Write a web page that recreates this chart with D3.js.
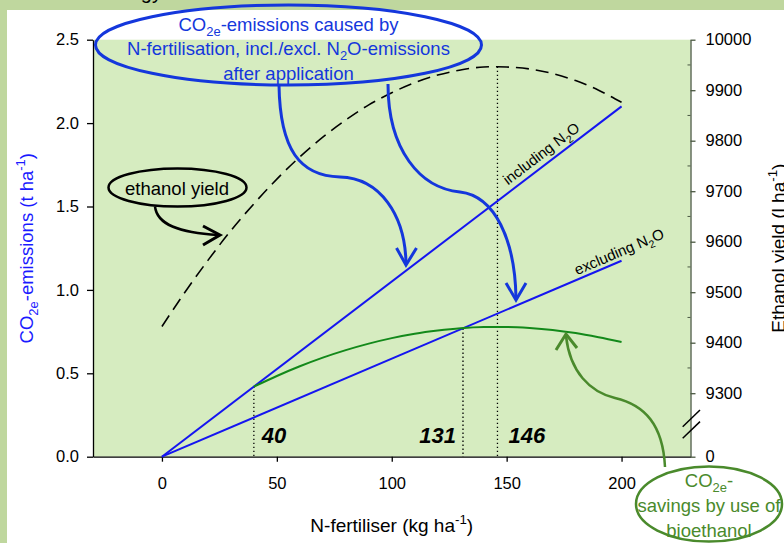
<!DOCTYPE html>
<html><head><meta charset="utf-8">
<script src="https://cdn.jsdelivr.net/npm/d3@7"></script>
<style>
body{margin:0;background:#fff;}
svg{display:block;font-family:"Liberation Sans",Arial,sans-serif;}
</style>
</head><body><svg id="c" width="784" height="543"></svg>
<script>
// ---------- data ----------
const xTicks = [0, 50, 100, 150, 200];
const yLeftTicks = [0, 0.5, 1.0, 1.5, 2.0, 2.5];
const yRightTicks = [0, 9300, 9400, 9500, 9600, 9700, 9800, 9900, 10000];
const yRightMinor = [9350, 9450, 9550, 9650, 9750, 9850, 9950];
// ethanol yield (l/ha, right axis)
const ethN = [0, 10, 20, 30, 40, 50, 60, 70, 80, 90, 100, 110, 120, 130, 140, 146, 150, 160, 170, 180, 190, 200];
const ethYield = [9432, 9500, 9563, 9622, 9675, 9724, 9768, 9807, 9841, 9871, 9895, 9915, 9930, 9940, 9946, 9946.5, 9946, 9942, 9933, 9919, 9900, 9876];
// CO2e savings by bioethanol (t/ha, left axis)
const savN = [40, 50, 60, 70, 80, 90, 100, 110, 120, 130, 140, 150, 160, 170, 180, 190, 200];
const savVal = [0.420, 0.484, 0.542, 0.594, 0.639, 0.678, 0.711, 0.737, 0.756, 0.770, 0.777, 0.778, 0.772, 0.760, 0.741, 0.716, 0.688];
// CO2e emissions lines
const inclN = [0, 200], inclVal = [0, 2.1];
const exclN = [0, 200], exclVal = [0, 1.175];
// marker lines
const markerN = [40, 131, 146];
const markerLabels = ["40", "131", "146"];

// ---------- setup ----------
const svg = d3.select("#c");
const FONT = '"Liberation Sans",Arial,sans-serif';
const plot = {l: 93, r: 690.5, t: 39.7, b: 456.7};

const x = d3.scaleLinear().domain([-30, 230]).range([plot.l, plot.r]);
const yL = d3.scaleLinear().domain([0, 2.5]).range([plot.b, plot.t]);
const yR = d3.scaleLinear().domain([0, 9300, 10000]).range([plot.b, 393.2, plot.t]);

// backgrounds
svg.append("rect").attr("width", 784).attr("height", 543).attr("fill", "#bfd79e");
svg.append("rect").attr("x", 7).attr("y", 10).attr("width", 777).attr("height", 533).attr("fill", "#ffffff");
svg.append("text").attr("x", 162).attr("y", -1).attr("text-anchor", "end")
  .attr("font-size", 20).attr("fill", "#000").text("Energy");
svg.append("rect").attr("x", plot.l).attr("y", plot.t).attr("width", plot.r - plot.l)
  .attr("height", plot.b - plot.t).attr("fill", "#d6ecc0");

// rich text with sub/superscripts (shift is undone on the following part)
function rich(textSel, parts, size) {
  let pending = 0;
  parts.forEach(p => {
    const [s, kind] = p;
    const t = textSel.append("tspan").text(s).attr("font-size", size);
    let shift = 0;
    if (kind === "sub") { t.attr("font-size", size * 0.7); shift = size * 0.28; }
    else if (kind === "sup") { t.attr("font-size", size * 0.7); shift = -size * 0.42; }
    const dy = pending + shift;
    if (dy !== 0) t.attr("dy", dy);
    pending = -shift;
  });
  return textSel;
}

// ---------- axes ----------
const axL = svg.append("g").attr("transform", `translate(${plot.l},0)`)
  .call(d3.axisLeft(yL).tickValues(yLeftTicks).tickFormat(d3.format(".1f")).tickSize(6).tickSizeOuter(0).tickPadding(8));
const axB = svg.append("g").attr("transform", `translate(0,${plot.b})`)
  .call(d3.axisBottom(x).tickValues(xTicks).tickSize(5).tickSizeOuter(0).tickPadding(16));
const axR = svg.append("g").attr("transform", `translate(${plot.r},0)`)
  .call(d3.axisRight(yR).tickValues(yRightTicks).tickFormat(d3.format("d")).tickSize(5).tickSizeOuter(0).tickPadding(10));
[axL, axB, axR].forEach(a => {
  a.selectAll("text").attr("font-size", 16.5).attr("font-family", FONT).attr("fill", "#000");
  a.selectAll("line,path").attr("stroke", "#000").attr("stroke-width", 1.3);
});
axR.selectAll("line,path").attr("stroke", "#4a5842");
axR.selectAll(".minor").data(yRightMinor).enter().append("line").attr("class", "minor")
  .attr("x1", -3).attr("x2", 0).attr("y1", d => yR(d)).attr("y2", d => yR(d))
  .attr("stroke", "#4a5842").attr("stroke-width", 1);
// axis break marks
[0, 11.6].forEach(o => {
  svg.append("line").attr("x1", 682.7).attr("y1", 426.7 + o).attr("x2", 700).attr("y2", 410 + o)
    .attr("stroke", "#000").attr("stroke-width", 1.5);
});

// axis titles
rich(svg.append("text").attr("transform", `translate(33,${(plot.t + plot.b) / 2}) rotate(-90)`)
  .attr("text-anchor", "middle").attr("font-size", 18.5).attr("fill", "#1a1aff"),
  [["CO"], ["2e", "sub"], ["-emissions (t ha"], ["-1", "sup"], [")"]], 18.5);
rich(svg.append("text").attr("transform", `translate(785,${(plot.t + plot.b) / 2}) rotate(-90)`)
  .attr("text-anchor", "middle").attr("font-size", 19).attr("fill", "#000"),
  [["Ethanol yield (l ha"], ["-1", "sup"], [")"]], 19);
rich(svg.append("text").attr("x", (plot.l + plot.r) / 2).attr("y", 532)
  .attr("text-anchor", "middle").attr("font-size", 19).attr("fill", "#000"),
  [["N-fertiliser (kg ha"], ["-1", "sup"], [")"]], 19);

// ---------- marker lines ----------
const markerTop = [yL(savVal[0]), yL(0.768), yR(ethYield[ethN.indexOf(146)])];
markerN.forEach((m, i) => {
  svg.append("line").attr("x1", x(m)).attr("x2", x(m)).attr("y1", markerTop[i]).attr("y2", plot.b)
    .attr("stroke", "#000").attr("stroke-width", 1.3).attr("stroke-dasharray", "1.3,2.7");
});
const mlab = [{a: "start", dx: 8}, {a: "end", dx: -7}, {a: "start", dx: 11}];
markerN.forEach((m, i) => {
  svg.append("text").attr("x", x(m) + mlab[i].dx).attr("y", 443).attr("text-anchor", mlab[i].a)
    .attr("font-size", 22).attr("font-weight", "bold").attr("font-style", "italic")
    .attr("fill", "#000").text(markerLabels[i]);
});

// ---------- data lines ----------
const lineL = d3.line().x(d => x(d[0])).y(d => yL(d[1]));
svg.append("path").attr("d", lineL(d3.zip(inclN, inclVal))).attr("fill", "none")
  .attr("stroke", "#1515f0").attr("stroke-width", 2);
svg.append("path").attr("d", lineL(d3.zip(exclN, exclVal))).attr("fill", "none")
  .attr("stroke", "#1515f0").attr("stroke-width", 2);
svg.append("path").attr("d", d3.line().curve(d3.curveMonotoneX).x(d => x(d[0])).y(d => yL(d[1]))(d3.zip(savN, savVal)))
  .attr("fill", "none").attr("stroke", "#13891a").attr("stroke-width", 2);
svg.append("path").attr("d", d3.line().curve(d3.curveMonotoneX).x(d => x(d[0])).y(d => yR(d[1]))(d3.zip(ethN, ethYield)))
  .attr("fill", "none").attr("stroke", "#000").attr("stroke-width", 1.6).attr("stroke-dasharray", "13,7");

// line labels
function lineLabel(n, vals, atN, off, parts) {
  const x0 = x(n[0]), y0 = yL(vals[0]), x1 = x(n[1]), y1 = yL(vals[1]);
  const ang = Math.atan2(y1 - y0, x1 - x0) * 180 / Math.PI;
  const px = x(atN), py = yL(vals[0] + (vals[1] - vals[0]) * (atN - n[0]) / (n[1] - n[0]));
  rich(svg.append("text").attr("transform", `translate(${px},${py}) rotate(${ang})`)
    .attr("y", off).attr("text-anchor", "middle").attr("font-size", 15).attr("fill", "#000"), parts, 15);
}
lineLabel(inclN, inclVal, 168, -6, [["including N"], ["2", "sub"], ["O"]]);
lineLabel(exclN, exclVal, 200.5, -4, [["excluding N"], ["2", "sub"], ["O"]]);

// ---------- annotations ----------
const BLUE = "#1437dc", GREEN = "#4a8a2c";
function arrowHead(tip, a1, a2, color) {
  svg.append("path").attr("d", `M${a1[0]},${a1[1]}L${tip[0]},${tip[1]}L${a2[0]},${a2[1]}`)
    .attr("fill", "none").attr("stroke", color).attr("stroke-width", 3).attr("stroke-linejoin", "miter");
}
// blue ellipse
svg.append("ellipse").attr("cx", 288.5).attr("cy", 45).attr("rx", 193).attr("ry", 40)
  .attr("fill", "none").attr("stroke", BLUE).attr("stroke-width", 3);
const bt = [
  {y: 30.5, p: [["CO"], ["2e", "sub"], ["-emissions caused by"]]},
  {y: 55, p: [["N-fertilisation, incl./excl. N"], ["2", "sub"], ["O-emissions"]]},
  {y: 80, p: [["after application"]]}
];
bt.forEach(l => rich(svg.append("text").attr("x", 288.5).attr("y", l.y).attr("text-anchor", "middle")
  .attr("font-size", 18.5).attr("fill", BLUE), l.p, 18.5));
svg.append("path").attr("d", "M279,85 C280,150 300,176 340,177 C380,178 405,215 406,263")
  .attr("fill", "none").attr("stroke", BLUE).attr("stroke-width", 3);
arrowHead([406, 265], [396.5, 248], [416.5, 248], BLUE);
svg.append("path").attr("d", "M388,84 C388,150 420,188 460,192 C495,196 515,240 516,298")
  .attr("fill", "none").attr("stroke", BLUE).attr("stroke-width", 3);
arrowHead([516, 300], [506, 283], [526, 283], BLUE);

// ethanol yield ellipse
svg.append("ellipse").attr("cx", 177.5).attr("cy", 187.5).attr("rx", 69).attr("ry", 19)
  .attr("fill", "none").attr("stroke", "#000").attr("stroke-width", 2.5);
svg.append("text").attr("x", 177).attr("y", 194.5).attr("text-anchor", "middle")
  .attr("font-size", 18.5).attr("fill", "#000").text("ethanol yield");
svg.append("path").attr("d", "M155,206.5 C157,225 180,233 218,235")
  .attr("fill", "none").attr("stroke", "#000").attr("stroke-width", 2.5);
arrowHead([220, 235], [203, 226], [203, 245], "#000");

// green ellipse
svg.append("ellipse").attr("cx", 709).attr("cy", 504).attr("rx", 73).attr("ry", 37.5)
  .attr("fill", "none").attr("stroke", GREEN).attr("stroke-width", 2.5);
const gt = [
  {y: 487, p: [["CO"], ["2e", "sub"], ["-"]]},
  {y: 512, p: [["savings by use of"]]},
  {y: 536.5, p: [["bioethanol"]]}
];
gt.forEach(l => rich(svg.append("text").attr("x", 709).attr("y", l.y).attr("text-anchor", "middle")
  .attr("font-size", 18.5).attr("fill", GREEN), l.p, 18.5));
svg.append("path").attr("d", "M665,467 C663,425 645,405 615,398 C590,392 570,372 566,336")
  .attr("fill", "none").attr("stroke", GREEN).attr("stroke-width", 2.5);
arrowHead([566, 334], [556, 350], [577, 348], GREEN);
</script>
</body></html>
